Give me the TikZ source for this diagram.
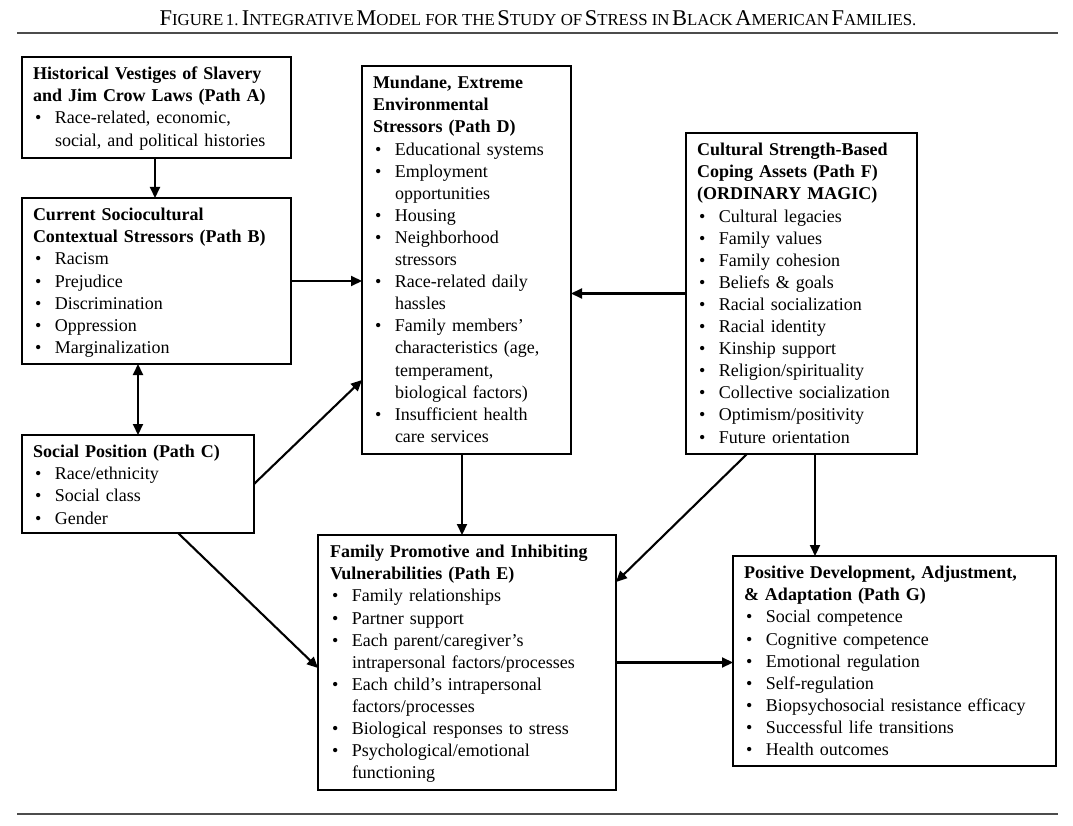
\documentclass[tikz,border=0pt]{standalone}
\usepackage{fontspec}
\setmainfont{Liberation Serif}
\usetikzlibrary{arrows.meta,calc}
\newcommand\bl{\makebox[22pt][l]{\hspace{2pt}\textbullet}}
\newcommand\ind{\hspace*{22pt}}
\newcommand\bigc[1]{{\fontsize{22.5}{26}\selectfont #1}}
\newcommand\smc[1]{{\fontsize{16.8}{26}\selectfont #1}}
\begin{document}
\begin{tikzpicture}[x=1pt,y=-1pt,
  box/.style={draw, line width=2pt, inner sep=0pt, outer sep=0pt, anchor=north west},
  txt/.style={anchor=north west, inner sep=0pt, outer sep=0pt, align=left,
    font=\fontsize{18}{22.1}\selectfont},
  arr/.style={line width=2.1pt, -{Triangle[length=11pt,width=10pt]}},
  darr/.style={line width=2.1pt, {Triangle[length=11pt,width=10pt]}-{Triangle[length=11pt,width=10pt]}},
  rulel/.style={line width=2pt, draw=black!70}]
\useasboundingbox (0,0) rectangle (1073,826);

% title and rules
\node[inner sep=0pt] (title) at (538,18) {\bigc{F}\smc{IGURE} \smc{1.} \bigc{I}\smc{NTEGRATIVE} \bigc{M}\smc{ODEL FOR THE} \bigc{S}\smc{TUDY OF} \bigc{S}\smc{TRESS IN} \bigc{B}\smc{LACK} \bigc{A}\smc{MERICAN} \bigc{F}\smc{AMILIES.}};
\draw[rulel] (17,33) -- (1058,33);
\draw[rulel] (17,814) -- (1058,814);

% boxes
\node[box, minimum width=269pt, minimum height=101pt] (A) at (22,57) {};
\node[box, minimum width=269pt, minimum height=166pt] (B) at (22,198) {};
\node[box, minimum width=232pt, minimum height=98pt] (C) at (22,435) {};
\node[box, minimum width=209pt, minimum height=388pt] (D) at (362,66) {};
\node[box, minimum width=231pt, minimum height=321pt] (F) at (686,133) {};
\node[box, minimum width=298pt, minimum height=255pt] (E) at (318,535) {};
\node[box, minimum width=323pt, minimum height=210pt] (G) at (733,556) {};

% texts
\node[txt, text width=250pt] (At) at ([xshift=11pt,yshift=-7.3pt]A.north west) {\strut\textbf{Historical Vestiges of Slavery}\\
\textbf{and Jim Crow Laws (Path A)}\\
\bl Race-related, economic,\\
\ind social, and political histories};

\node[txt, text width=250pt] (Bt) at ([xshift=11pt,yshift=-7.3pt]B.north west) {\strut\textbf{Current Sociocultural}\\
\textbf{Contextual Stressors (Path B)}\\
\bl Racism\\
\bl Prejudice\\
\bl Discrimination\\
\bl Oppression\\
\bl Marginalization};

\node[txt, text width=215pt] (Ct) at ([xshift=11pt,yshift=-7.3pt]C.north west) {\strut\textbf{Social Position (Path C)}\\
\bl Race/ethnicity\\
\bl Social class\\
\bl Gender};

\node[txt, text width=190pt] (Dt) at ([xshift=11pt,yshift=-7.3pt]D.north west) {\strut\textbf{Mundane, Extreme}\\
\textbf{Environmental}\\
\textbf{Stressors (Path D)}\\
\bl Educational systems\\
\bl Employment\\
\ind opportunities\\
\bl Housing\\
\bl Neighborhood\\
\ind stressors\\
\bl Race-related daily\\
\ind hassles\\
\bl Family members’\\
\ind characteristics (age,\\
\ind temperament,\\
\ind biological factors)\\
\bl Insufficient health\\
\ind care services};

\node[txt, text width=212pt] (Ft) at ([xshift=11pt,yshift=-7.3pt]F.north west) {\strut\textbf{Cultural Strength-Based}\\
\textbf{Coping Assets (Path F)}\\
\textbf{(ORDINARY MAGIC)}\\
\bl Cultural legacies\\
\bl Family values\\
\bl Family cohesion\\
\bl Beliefs \& goals\\
\bl Racial socialization\\
\bl Racial identity\\
\bl Kinship support\\
\bl Religion/spirituality\\
\bl Collective socialization\\
\bl Optimism/positivity\\
\bl Future orientation};

\node[txt, text width=280pt] (Et) at ([xshift=12pt,yshift=-7.3pt]E.north west) {\strut\textbf{Family Promotive and Inhibiting}\\
\textbf{Vulnerabilities (Path E)}\\
\bl Family relationships\\
\bl Partner support\\
\bl Each parent/caregiver’s\\
\ind intrapersonal factors/processes\\
\bl Each child’s intrapersonal\\
\ind factors/processes\\
\bl Biological responses to stress\\
\bl Psychological/emotional\\
\ind functioning};

\node[txt, text width=303pt] (Gt) at ([xshift=11pt,yshift=-7.3pt]G.north west) {\strut\textbf{Positive Development, Adjustment,}\\
\textbf{\& Adaptation (Path G)}\\
\bl Social competence\\
\bl Cognitive competence\\
\bl Emotional regulation\\
\bl Self-regulation\\
\bl Biopsychosocial resistance efficacy\\
\bl Successful life transitions\\
\bl Health outcomes};

% connectors
\draw[arr] ([xshift=-1.5pt]A.south) -- ([xshift=-1.5pt]B.north);
\draw[arr] (B.east) -- (B.east -| D.west);
\draw[darr] (C.north) -- (C.north |- B.south);
\draw[arr] (C.east) -- ([yshift=74pt]D.south west);
\draw[arr] ([xshift=156pt]C.south west) -- ([yshift=-133pt]E.north west);
\draw[arr] ([xshift=-4.5pt]D.south) -- ([xshift=-4.5pt]D.south |- E.north);
\draw[arr] (F.west) -- (F.west -| D.east);
\draw[arr] ([xshift=61pt]F.south west) -- ([yshift=-47pt]E.north east);
\draw[arr] ([xshift=13.5pt]F.south) -- ([xshift=13.5pt]F.south |- G.north);
\draw[arr] (E.east) -- (E.east -| G.west);
\end{tikzpicture}
\end{document}
